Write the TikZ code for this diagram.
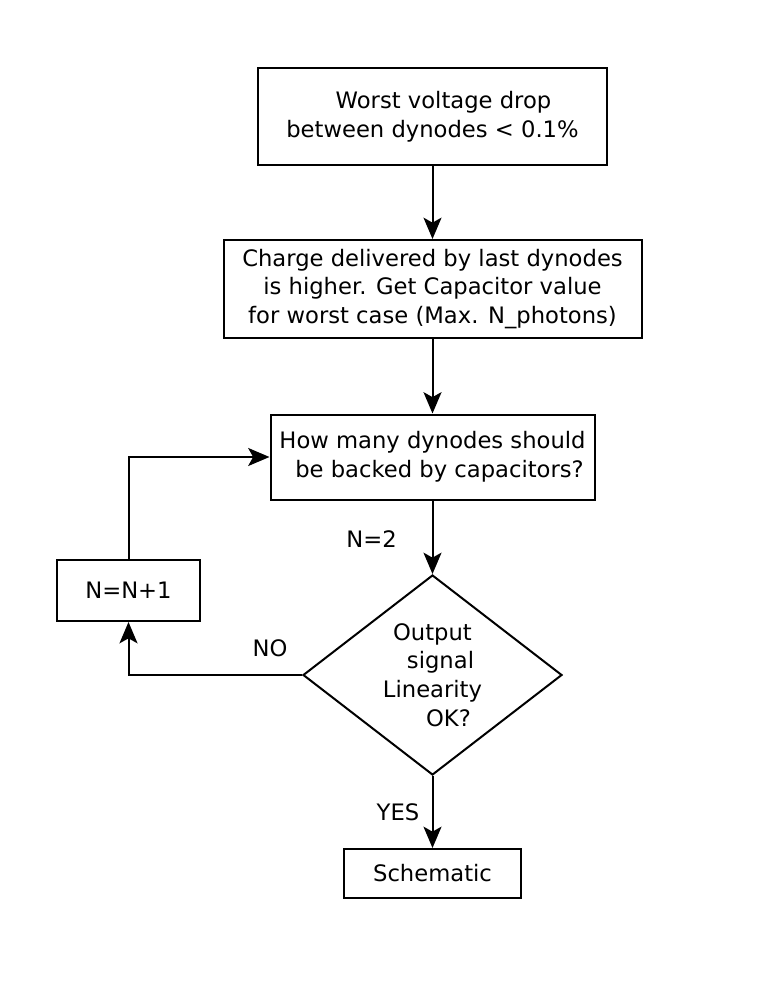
\documentclass[tikz,border=0pt]{standalone}
\usepackage{fontspec}
\setmainfont{DejaVu Sans}
\usetikzlibrary{arrows.meta,shapes.geometric}
\begin{document}
\begin{tikzpicture}[x=0.75pt, y=-0.75pt, line width=1.5pt,
  >={Stealth[length=16pt,width=13.5pt,inset=3.75pt]},
  font=\fontsize{17}{21.6}\selectfont,
  box/.style={rectangle,draw,align=center,inner sep=0pt},
  decision/.style={diamond,draw,align=center,inner sep=0pt,aspect=1.3,minimum width=194.25pt,minimum height=150pt},
  lbl/.style={anchor=base,inner sep=0pt}]
\useasboundingbox (0,0) rectangle (762,998);
% boxes
\node[box,minimum width=261.75pt,minimum height=72.75pt] (worst) at (432.5,116.5) {\hspace*{16.5pt}Worst voltage drop\\between dynodes < 0.1\%};
\node[box,minimum width=313.5pt,minimum height=73.5pt] (charge) at (432.5,289) {Charge delivered by last dynodes\\is higher. Get Capacitor value\\for worst case (Max. N\_photons)};
\node[box,minimum width=243pt,minimum height=63.75pt] (howmany) at (432.5,457) {How many dynodes should\\\hspace*{10.5pt}be backed by capacitors?};
\node[decision] (linear) at (432.5,675) {Output\\\hspace*{12pt}signal\\Linearity\\\hspace*{24pt}OK?};
\node[box,minimum width=107.25pt,minimum height=45.75pt] (incr) at (128.5,590.5) {N=N+1};
\node[box,minimum width=132.75pt,minimum height=36.75pt] (schem) at (432.5,873.5) {Schematic};
% labels
\node[lbl] (lbltwo) at (371.5,547) {N=2};
\node[lbl] (lblno) at (270,656) {NO};
\node[lbl] (lblyes) at (398,820) {YES};
% arrows
\draw[->] (worst.south) -- (charge.north);
\draw[->] (charge.south) -- (howmany.north);
\draw[->] (howmany.south) -- (linear.north);
\draw[->] (linear.west) -| (incr.south);
\draw[->] (incr.north) |- (howmany.west);
\draw[->] (linear.south) -- (schem.north);
\end{tikzpicture}
\end{document}
